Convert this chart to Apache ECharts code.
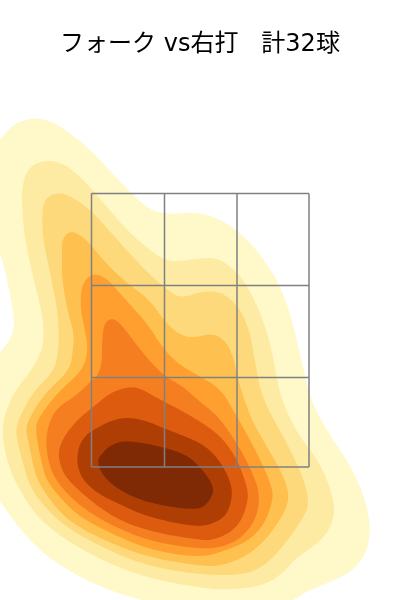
<!DOCTYPE html>
<html>
<head>
<meta charset="utf-8">
<style>html,body{margin:0;padding:0;background:#fff}#c{width:400px;height:600px}</style>
<script src="https://cdn.jsdelivr.net/npm/echarts@6/dist/echarts.min.js"></script>
</head>
<body>
<div id="c"></div>
<script>
const titleText = 'フォーク vs右打   計32球';
const levelColors = ['#fff8c8','#feeba3','#fed97c','#fec04f','#fe9f30','#f47e20','#dc5b0e','#ae3e03','#7f2a05'];
const zoneX = [91.5,164.5,237,309];
const zoneY = [193.5,285.5,377.5,467];
const level1 = [[-25,185],[-8,150],[10,127],[23,120],[37,118],[53,122],[70,133],[87,147],[100,160],[113,174],[133,195],[147,207],[157,212],[170,214],[183,213],[200,213],[217,218],[237,230],[257,250],[272,272],[280,287],[288,307],[297,340],[303,367],[309,393],[317,413],[333,440],[350,465],[363,493],[370,520],[369,547],[357,567],[340,578],[317,587],[300,595],[285,606],[200,625],[143,600],[107,590],[63,568],[30,542],[0,502],[-20,470],[-20,375],[0,352],[8,343],[14,330],[14,315],[7,280],[0,250],[-25,215]];
const level2 = [[22,210],[22,183],[30,166],[43,161],[57,161],[73,170],[90,187],[107,207],[127,230],[147,248],[163,259],[177,262],[200,258],[217,258],[230,266],[242,278],[253,297],[263,320],[272,350],[278,387],[287,413],[300,437],[320,463],[332,493],[335,513],[328,533],[313,547],[297,557],[283,573],[265,585],[233,590],[200,588],[143,577],[97,558],[63,538],[43,522],[30,507],[20,490],[12,475],[7,460],[3,440],[3,420],[13,393],[32,370],[42,350],[44,333],[42,313],[33,277],[25,240]];
const level3 = [[42,217],[44,199],[58,192],[73,197],[93,212],[113,235],[133,257],[150,275],[170,292],[182,298],[200,292],[217,291],[230,298],[242,312],[250,333],[253,350],[260,390],[270,413],[287,443],[303,477],[309,500],[306,513],[295,530],[280,550],[263,567],[243,575],[200,575],[143,565],[97,545],[63,525],[43,505],[30,487],[22,460],[17,440],[16,430],[18,420],[32,393],[55,370],[58,350],[59,333],[57,307],[50,273],[43,240]];
const level4 = [[62,257],[62,238],[72,230],[87,240],[103,260],[123,280],[150,300],[165,322],[180,335],[193,338],[213,333],[227,342],[235,363],[237,377],[250,417],[267,447],[282,473],[289,493],[287,507],[278,523],[263,543],[243,558],[220,566],[200,566],[147,557],[103,540],[70,522],[52,503],[37,480],[32,460],[28,440],[26,430],[28,420],[45,393],[70,370],[73,350],[74,333],[68,313],[62,280]];
const level5 = [[80,307],[82,283],[93,273],[107,278],[123,297],[147,323],[162,347],[177,363],[197,375],[220,388],[235,413],[250,440],[262,463],[273,490],[272,503],[265,523],[250,540],[227,550],[200,558],[150,550],[110,533],[80,517],[62,500],[46,480],[41,460],[37,440],[36,430],[37,420],[57,393],[83,370],[88,350],[85,330]];
const level6 = [[102,343],[104,323],[112,318],[120,323],[133,340],[147,358],[163,375],[185,388],[200,402],[217,415],[235,440],[250,467],[260,493],[257,517],[243,537],[223,547],[200,549],[153,542],[117,528],[90,513],[70,497],[56,480],[50,467],[47,453],[46,437],[50,420],[58,407],[77,395],[92,380],[97,377],[102,363]];
const level7 = [[92,408],[110,393],[127,387],[140,388],[157,398],[190,415],[220,435],[236,457],[245,480],[249,497],[242,520],[230,533],[213,540],[200,540],[157,533],[123,522],[100,508],[82,493],[68,480],[61,468],[58,453],[63,438],[77,420]];
const level8 = [[97,428],[110,421],[127,417],[147,421],[163,428],[200,442],[217,457],[228,475],[233,493],[228,513],[217,522],[200,527],[170,522],[143,515],[117,503],[97,493],[83,480],[78,468],[77,457],[80,443],[88,433]];
const level9 = [[99,457],[110,445],[127,440],[163,447],[187,455],[200,467],[210,480],[214,490],[210,500],[200,510],[170,507],[140,500],[120,490],[107,480],[100,470],[98,462]];
const contourLevels = [level1,level2,level3,level4,level5,level6,level7,level8,level9];

// corner-cutting so the traced outlines render as the smooth contours of a density estimate
function roundOutline(pts, rounds){
  let out = pts;
  for(let r=0;r<rounds;r++){
    const next = [];
    out.forEach((p,i)=>{
      const q = out[(i+1)%out.length];
      next.push([p[0]*0.75+q[0]*0.25,p[1]*0.75+q[1]*0.25]);
      next.push([p[0]*0.25+q[0]*0.75,p[1]*0.25+q[1]*0.75]);
    });
    out = next;
  }
  return out;
}
const contourSeries = contourLevels.map((pts,i)=>({
  type:'custom', coordinateSystem:'cartesian2d', silent:true, clip:true, z:i+1,
  data:[0],
  renderItem:(params,api)=>({
    type:'polygon',
    shape:{points:roundOutline(pts,3).map(p=>api.coord(p))},
    style:{fill:levelColors[i]}
  })
}));
const zoneLines = [];
zoneX.forEach(x=>zoneLines.push([[x,zoneY[0]],[x,zoneY[3]]]));
zoneY.forEach(y=>zoneLines.push([[zoneX[0],y],[zoneX[3],y]]));
const zoneSeries = {
  type:'lines', coordinateSystem:'cartesian2d', silent:true, z:20,
  polyline:true,
  data:zoneLines.map(c=>({coords:c})),
  lineStyle:{color:'#808080',width:1.5,opacity:1}
};
const chart = echarts.init(document.getElementById('c'),null,{renderer:'canvas'});
chart.setOption({
  animation:false,
  backgroundColor:'#fff',
  title:{text:titleText,left:'center',top:28,textStyle:{fontFamily:'"DejaVu Sans","Noto Sans CJK JP",sans-serif',fontSize:24,fontWeight:'normal',color:'#000'}},
  grid:{left:0,right:0,top:0,bottom:0},
  xAxis:{type:'value',min:0,max:400,show:false},
  yAxis:{type:'value',min:0,max:600,inverse:true,show:false},
  series:[...contourSeries,zoneSeries]
});
</script>
</body>
</html>
